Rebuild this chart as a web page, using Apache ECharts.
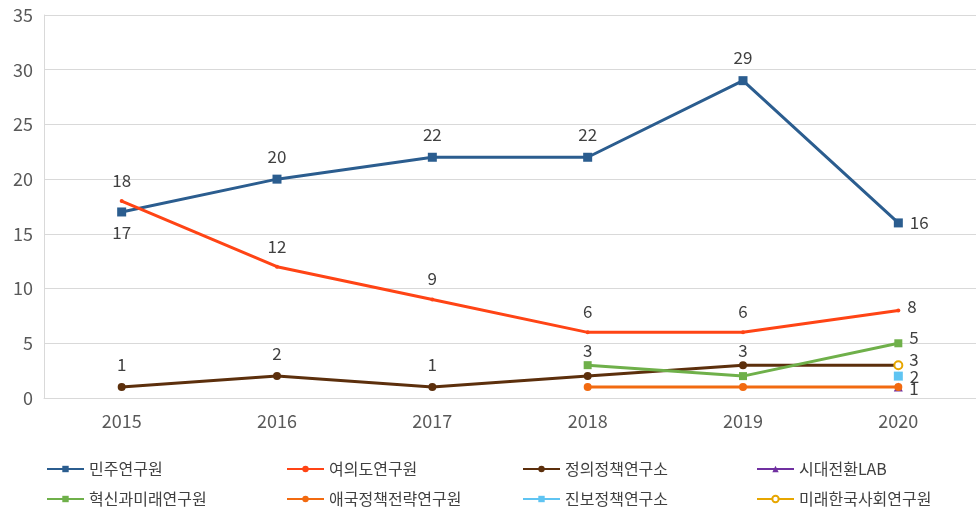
<!DOCTYPE html>
<html>
<head>
<meta charset="utf-8">
<script src="https://cdn.jsdelivr.net/npm/echarts@6/dist/echarts.min.js"></script>
<style>
  html, body { margin: 0; padding: 0; background: #fff; }
  #chart { width: 976px; height: 512px; }
</style>
</head>
<body>
<div id="chart"></div>
<script>
'use strict';

// 연도 (x축)
const years = ['2015', '2016', '2017', '2018', '2019', '2020'];

// 연구원별 값
const minju = [17, 20, 22, 22, 29, 16];
const yeouido = [18, 12, 9, 6, 6, 8];
const jeongui = [1, 2, 1, 2, 3, 3];
const sidae = [null, null, null, null, null, 1];
const hyeoksin = [null, null, null, 3, 2, 5];
const aeguk = [null, null, null, 1, 1, 1];
const jinbo = [null, null, null, null, null, 2];
const miraeHanguk = [null, null, null, null, null, 3];

const names = ['민주연구원', '여의도연구원', '정의정책연구소', '시대전환LAB',
    '혁신과미래연구원', '애국정책전략연구원', '진보정책연구소', '미래한국사회연구원'];

const FONT = '"Noto Sans CJK KR", "Noto Sans", sans-serif';
const labelColor = '#404040';

// 라벨 위치: 마지막 점(2020)은 오른쪽, 나머지는 위 (겹치는 것은 숨김)
function withLabels(values, opts) {
    opts = opts || {};
    return values.map((v, i) => {
        if (v === null) return null;
        const item = { value: v };
        if (i === values.length - 1) {
            item.label = { position: 'right', distance: 7, offset: [0, opts.lastDy || 0], show: opts.lastShow !== false };
        } else if (opts.below && opts.below.includes(i)) {
            item.label = { position: 'bottom', distance: 8 };
        } else if (opts.hide && opts.hide.includes(i)) {
            item.label = { show: false };
        } else if (opts.nudge && opts.nudge.includes(i)) {
            item.label = { offset: [0, 8] };
        }
        return item;
    });
}

function lineSeries(name, data, color, symbol, size, extra) {
    return Object.assign({
        name: name,
        type: 'line',
        data: data,
        symbol: symbol,
        symbolSize: size,
        showAllSymbol: true,
        lineStyle: { color: color, width: 3 },
        itemStyle: { color: color },
        label: {
            show: true,
            position: 'top',
            distance: 10,
            color: labelColor,
            fontSize: 17,
            fontFamily: FONT
        },
        emphasis: { disabled: true },
        animation: false
    }, extra || {});
}

const series = [
    lineSeries(names[0], withLabels(minju, { below: [0] }), '#2b5d8f', 'rect', 9),
    lineSeries(names[1], withLabels(yeouido, { lastDy: -4 }), '#ff4415', 'circle', 4),
    lineSeries(names[2], withLabels(jeongui, { lastDy: -6, hide: [3], nudge: [4] }), '#5c2f0c', 'circle', 8),
    lineSeries(names[3], withLabels(sidae, { lastShow: false }), '#7030a0', 'triangle', 9),
    lineSeries(names[4], withLabels(hyeoksin, { lastDy: -6, hide: [4], nudge: [3] }), '#6fb04a', 'rect', 8),
    lineSeries(names[5], withLabels(aeguk, { lastDy: 1, hide: [3, 4] }), '#f26a10', 'circle', 8),
    lineSeries(names[6], withLabels(jinbo, { lastDy: 0 }), '#5fc4f2', 'rect', 9),
    lineSeries(names[7], withLabels(miraeHanguk, { lastShow: false }), '#e7a600', 'emptyCircle', 8,
        { itemStyle: { color: '#e7a600', borderWidth: 2 } })
];

// 범례: 2줄 x 4열
const legendCols = [46, 286, 522, 756];
const legendRows = [468, 498];
const legends = names.map((n, i) => ({
    data: [n],
    left: legendCols[i % 4],
    top: legendRows[Math.floor(i / 4)] - 7,
    padding: 0,
    itemWidth: 37,
    itemHeight: 8,
    itemGap: 4,
    textStyle: { color: labelColor, fontSize: 16, fontFamily: FONT },
    selectedMode: false
}));

const chart = echarts.init(document.getElementById('chart'));
chart.setOption({
    backgroundColor: '#fff',
    animation: false,
    grid: { left: 44, top: 15, width: 938, height: 383 },
    legend: legends,
    xAxis: {
        type: 'category',
        data: years,
        boundaryGap: true,
        axisLine: { lineStyle: { color: '#d9d9d9', width: 1 } },
        axisTick: { show: false },
        axisLabel: { color: '#595959', fontSize: 18, fontFamily: FONT, margin: 14 }
    },
    yAxis: {
        type: 'value',
        min: 0,
        max: 35,
        interval: 5,
        axisLine: { show: true, lineStyle: { color: '#d9d9d9', width: 1 } },
        axisTick: { show: false },
        splitLine: { lineStyle: { color: '#d9d9d9', width: 1 } },
        axisLabel: { color: '#595959', fontSize: 18, fontFamily: FONT, margin: 11 }
    },
    series: series
});
</script>
</body>
</html>
